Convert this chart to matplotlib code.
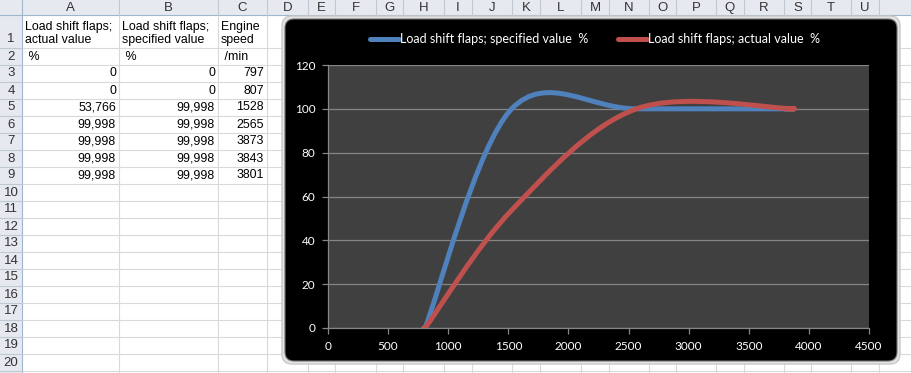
import numpy as np
import matplotlib
matplotlib.use("Agg")
import matplotlib.pyplot as plt
from matplotlib.path import Path
from matplotlib.patches import PathPatch, FancyBboxPatch, Rectangle
from matplotlib.lines import Line2D

# --- sheet data -------------------------------------------------------------
engine_speed = [797, 807, 1528, 2565, 3873, 3843, 3801]
flaps_actual = [0, 0, 53.766, 99.998, 99.998, 99.998, 99.998]
flaps_specified = [0, 0, 99.998, 99.998, 99.998, 99.998, 99.998]

header_a = "Load shift flaps;\nactual value"
header_b = "Load shift flaps;\nspecified value"
header_c = "Engine\nspeed"
units = [" %", " %", " /min"]

series_names = ["Load shift flaps; specified value  %", "Load shift flaps; actual value  %"]
x_ticks = [0, 500, 1000, 1500, 2000, 2500, 3000, 3500, 4000, 4500]
y_ticks = [0, 20, 40, 60, 80, 100, 120]

col_letters = list("ABCDEFGHIJKLMNOPQRSTU")

# --- layout in screen pixels ------------------------------------------------
W, H = 912, 373
col_edges = [22, 119, 218, 267, 308, 335, 376, 403, 444, 472, 512, 540, 581, 609,
             649, 676, 716, 744, 784, 811, 851, 879]
row_edges = [15, 48] + [48 + 17 * k for k in range(1, 21)]

cell_font = "Liberation Sans"
chart_font = "Lato"
fs_cell = 8.9

blue = "#4f81bd"
red = "#c0504d"


def fmt(v):
    return f"{v:g}".replace(".", ",")


def excel_smooth(ax, xs, ys):
    # bezier "smoothed line" as excel does it, worked out in screen pixels;
    # control arms are 1/6 of the neighbour chord, capped at half the segment
    pts = ax.transData.transform(np.column_stack([xs, ys]).astype(float))
    n = len(pts)
    verts = [pts[0]]
    codes = [Path.MOVETO]

    def arm(v, seg):
        L = np.hypot(*v)
        lim = seg / 2
        if L > lim and L > 0:
            v = v * lim / L
        return v

    for i in range(n - 1):
        p0 = pts[max(i - 1, 0)]
        p1 = pts[i]
        p2 = pts[i + 1]
        p3 = pts[min(i + 2, n - 1)]
        seg = np.hypot(*(p2 - p1))
        verts += [p1 + arm((p2 - p0) / 6, seg), p2 - arm((p3 - p1) / 6, seg), p2]
        codes += [Path.CURVE4] * 3
    verts = ax.transData.inverted().transform(np.array(verts))
    return Path(verts, codes)


fig = plt.figure(figsize=(W / 100, H / 100), dpi=100)
bg = fig.add_axes([0, 0, 1, 1])
bg.set_xlim(0, W)
bg.set_ylim(H, 0)
bg.axis("off")

# headers
bg.add_patch(Rectangle((0, 0), W, row_edges[0], facecolor="#e6eaf0", edgecolor="none"))
bg.add_patch(Rectangle((0, 0), col_edges[0], H, facecolor="#e6eaf0", edgecolor="none"))
bg.plot([0, W], [row_edges[0], row_edges[0]], color="#9eb6ce", lw=0.8)
bg.plot([col_edges[0], col_edges[0]], [0, H], color="#9eb6ce", lw=0.8)

# grid lines
for x in col_edges[1:]:
    bg.plot([x, x], [row_edges[0], H], color="#d9d9d9", lw=0.8)
    bg.plot([x, x], [0, row_edges[0]], color="#c0c8d2", lw=0.8)
for y in row_edges[1:]:
    bg.plot([col_edges[0], W], [y, y], color="#d9d9d9", lw=0.8)
    bg.plot([0, col_edges[0]], [y, y], color="#c0c8d2", lw=0.8)

for i, x0 in enumerate(col_edges[:-1]):
    xc = (x0 + col_edges[i + 1]) / 2
    bg.text(xc, 8, col_letters[i], ha="center", va="center", fontsize=9.5,
            color="#333333", family=cell_font)
for r in range(20):
    yc = row_edges[r + 1] - 8.5
    bg.text(11, yc, str(r + 1), ha="center", va="center", fontsize=9.5,
            color="#333333", family=cell_font)

# cell contents
for x, txt in zip([25, 122, 221], [header_a, header_b, header_c]):
    bg.text(x, 46, txt, ha="left", va="bottom", fontsize=fs_cell, family=cell_font,
            linespacing=1.15)
for x, u in zip([25, 122, 221], units):
    bg.text(x, 57, u, ha="left", va="center", fontsize=fs_cell, family=cell_font)
for k in range(len(engine_speed)):
    yc = row_edges[2 + k] + 8.5
    bg.text(116, yc, fmt(flaps_actual[k]), ha="right", va="center", fontsize=fs_cell, family=cell_font)
    bg.text(215, yc, fmt(flaps_specified[k]), ha="right", va="center", fontsize=fs_cell, family=cell_font)
    bg.text(264, yc, fmt(engine_speed[k]), ha="right", va="center", fontsize=fs_cell, family=cell_font)

# chart object
bg.add_patch(FancyBboxPatch((282, 16), 618, 348, boxstyle="round,pad=0,rounding_size=10",
                            facecolor="#e4e4e4", edgecolor="#c8c8c8", lw=1, zorder=5))
bg.add_patch(FancyBboxPatch((285, 19), 612, 342, boxstyle="round,pad=0,rounding_size=9",
                            facecolor="black", edgecolor="#707070", lw=0.8, zorder=6))

ax = fig.add_axes([328 / W, 1 - 328 / H, (869 - 328) / W, (328 - 65) / H])
ax.set_facecolor("#404040")
ax.set_xlim(0, 4500)
ax.set_ylim(0, 120)
ax.set_xticks(x_ticks)
ax.set_yticks(y_ticks)
ax.grid(axis="y", color="#868686", lw=0.9)
ax.set_axisbelow(True)
for side in ["top", "right"]:
    ax.spines[side].set_visible(False)
for side in ["left", "bottom"]:
    ax.spines[side].set_color("#868686")
    ax.spines[side].set_linewidth(0.9)
ax.tick_params(colors="#868686", length=4, width=0.9, labelcolor="white",
               labelsize=8.5, pad=5)
for lab in ax.get_xticklabels() + ax.get_yticklabels():
    lab.set_family(chart_font)

for ys, c in [(flaps_specified, blue), (flaps_actual, red)]:
    ax.add_patch(PathPatch(excel_smooth(ax, engine_speed, ys), fill=False, edgecolor=c,
                           lw=3.6, capstyle="round", joinstyle="round"))

handles = [Line2D([], [], color=blue, lw=3.6, solid_capstyle="round"),
           Line2D([], [], color=red, lw=3.6, solid_capstyle="round")]
fig.legend(handles, series_names, loc="center", ncol=2, frameon=False,
           bbox_to_anchor=(595 / W, 1 - 39 / H), handlelength=2.3, handletextpad=0.1,
           columnspacing=2.4, labelcolor="white", prop={"family": chart_font, "size": 9})

fig.savefig("out.png", dpi=100)
